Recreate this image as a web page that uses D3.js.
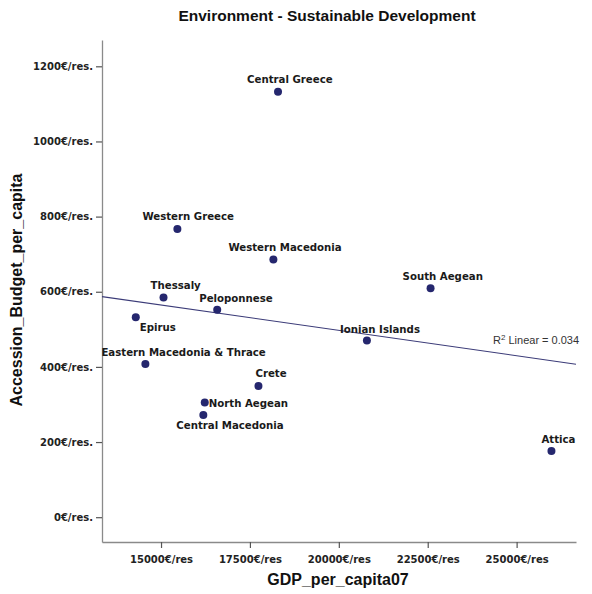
<!DOCTYPE html>
<html>
<head>
<meta charset="utf-8">
<script src="https://cdn.jsdelivr.net/npm/d3@7"></script>
<style>
  html, body { margin: 0; padding: 0; background: #fff; }
  svg { display: block; }
</style>
</head>
<body>
<div id="chart"></div>
<script>
const width = 592;
const height = 594;

// data
const regions = [
  "Central Greece", "Western Greece", "Western Macedonia", "Thessaly",
  "Peloponnese", "Epirus", "Eastern Macedonia & Thrace", "Crete",
  "North Aegean", "Central Macedonia", "South Aegean", "Ionian Islands", "Attica",
];
const gdpPerCapita = [
  18290, 15460, 18160, 15070, 16580, 14290, 14560, 17740, 16230, 16190, 22580, 20790, 25980,
];
const budgetPerCapita = [
  1132, 767, 686, 585, 552, 532, 408, 349, 305, 272, 609, 470, 176,
];
const xTicks = [15000, 17500, 20000, 22500, 25000];
const yTicks = [0, 200, 400, 600, 800, 1000, 1200];
const rSquaredText = "0.034";

// label placement relative to the dot: [dx, dy]
const labelOffset = {
  "Central Greece": [-31, -9],
  "Western Greece": [-35, -9],
  "Western Macedonia": [-45, -8],
  "Thessaly": [-13, -8],
  "Peloponnese": [-18, -8],
  "Epirus": [4, 14],
  "Eastern Macedonia & Thrace": [-44, -8],
  "Crete": [-3, -9],
  "North Aegean": [4, 4],
  "Central Macedonia": [-27, 14],
  "South Aegean": [-28, -8],
  "Ionian Islands": [-27, -8],
  "Attica": [-10, -8],
};

const data = regions.map((name, i) => ({
  name,
  gdp: gdpPerCapita[i],
  budget: budgetPerCapita[i],
}));

const margin = { top: 40, right: 16, bottom: 52, left: 102 };

const x = d3.scaleLinear()
  .domain([13340, 26670])
  .range([margin.left, width - margin.right]);

const y = d3.scaleLinear()
  .domain([-66, 1270])
  .range([height - margin.bottom, margin.top]);

const svg = d3.select("#chart")
  .append("svg")
  .attr("width", width)
  .attr("height", height)
  .attr("viewBox", `0 0 ${width} ${height}`);

const tickFont = "'DejaVu Sans', Verdana, sans-serif";
const titleFont = "'Liberation Sans', Arial, sans-serif";

// axes
const xAxis = svg.append("g")
  .attr("transform", `translate(0,${height - margin.bottom})`)
  .call(d3.axisBottom(x).tickValues(xTicks).tickSize(6).tickSizeOuter(0)
    .tickFormat((d) => `${d}€/res`));

const yAxis = svg.append("g")
  .attr("transform", `translate(${margin.left},0)`)
  .call(d3.axisLeft(y).tickValues(yTicks).tickSize(6).tickSizeOuter(0)
    .tickFormat((d) => `${d}€/res.`));

[xAxis, yAxis].forEach((g) => {
  g.select(".domain").attr("stroke", "#8a8a8a").attr("stroke-width", 1.3);
  g.selectAll(".tick line").attr("stroke", "#555").attr("stroke-width", 1.2);
  g.selectAll(".tick text")
    .attr("fill", "#222")
    .attr("font-family", tickFont)
    .attr("font-weight", "bold")
    .attr("font-size", 10);
});
xAxis.selectAll(".tick text").attr("dy", "1.2em");
yAxis.selectAll(".tick text").attr("x", -9);

// regression line
const mx = d3.mean(data, (d) => d.gdp);
const my = d3.mean(data, (d) => d.budget);
const slope = d3.sum(data, (d) => (d.gdp - mx) * (d.budget - my)) /
  d3.sum(data, (d) => (d.gdp - mx) ** 2);
const intercept = my - slope * mx;
const [x0, x1] = x.domain();

svg.append("line")
  .attr("x1", x(x0))
  .attr("y1", y(intercept + slope * x0))
  .attr("x2", x(x1))
  .attr("y2", y(intercept + slope * x1))
  .attr("stroke", "#3b3b78")
  .attr("stroke-width", 1.1);

svg.append("text")
  .attr("x", 493)
  .attr("y", 344)
  .attr("font-family", titleFont)
  .attr("font-size", 11)
  .attr("fill", "#333")
  .html(`R<tspan dy="-4" font-size="8">2</tspan><tspan dy="4"> Linear  = ${rSquaredText}</tspan>`);

// points
svg.append("g")
  .selectAll("circle")
  .data(data)
  .join("circle")
  .attr("cx", (d) => x(d.gdp))
  .attr("cy", (d) => y(d.budget))
  .attr("r", 4)
  .attr("fill", "#25276e");

svg.append("g")
  .selectAll("text")
  .data(data)
  .join("text")
  .attr("x", (d) => x(d.gdp) + labelOffset[d.name][0])
  .attr("y", (d) => y(d.budget) + labelOffset[d.name][1])
  .attr("font-family", tickFont)
  .attr("font-weight", "bold")
  .attr("font-size", 10.2)
  .attr("fill", "#1a1a1a")
  .text((d) => d.name);

// titles
svg.append("text")
  .attr("x", 327)
  .attr("y", 21)
  .attr("text-anchor", "middle")
  .attr("font-family", titleFont)
  .attr("font-weight", "bold")
  .attr("font-size", 15.5)
  .attr("fill", "#111")
  .text("Environment - Sustainable Development");

svg.append("text")
  .attr("x", 338)
  .attr("y", 585)
  .attr("text-anchor", "middle")
  .attr("font-family", titleFont)
  .attr("font-weight", "bold")
  .attr("font-size", 16)
  .attr("fill", "#111")
  .text("GDP_per_capita07");

svg.append("text")
  .attr("transform", "translate(22,290) rotate(-90)")
  .attr("text-anchor", "middle")
  .attr("font-family", titleFont)
  .attr("font-weight", "bold")
  .attr("font-size", 16)
  .attr("fill", "#111")
  .text("Accession_Budget_per_capita");
</script>
</body>
</html>
